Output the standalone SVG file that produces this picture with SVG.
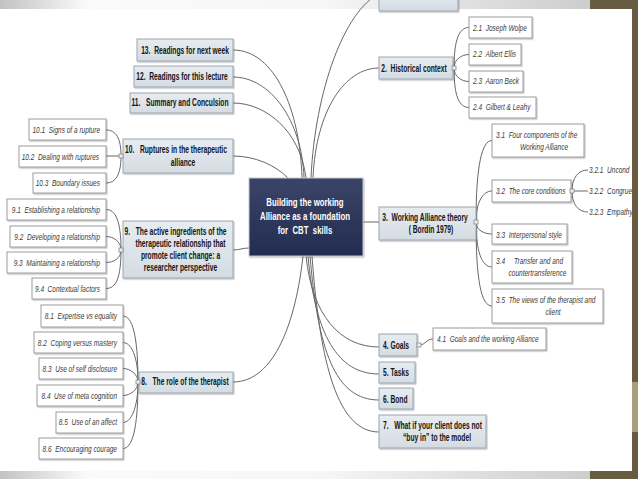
<svg xmlns="http://www.w3.org/2000/svg" width="638" height="479" viewBox="0 0 638 479">
<defs>
<linearGradient id="mg" x1="0" y1="0" x2="0" y2="1"><stop offset="0" stop-color="#e7ecf0"/><stop offset="1" stop-color="#d4dce3"/></linearGradient>
<linearGradient id="cg" x1="0" y1="0" x2="0" y2="1"><stop offset="0" stop-color="#3b4467"/><stop offset="1" stop-color="#232c50"/></linearGradient>
<linearGradient id="band" x1="0" y1="0" x2="1" y2="0"><stop offset="0" stop-color="#c2c2c2"/><stop offset="0.15" stop-color="#fbfbfb"/><stop offset="0.55" stop-color="#f6f6f6"/><stop offset="1" stop-color="#cdcdcd"/></linearGradient>
<filter id="sh" x="-10%" y="-10%" width="130%" height="140%"><feDropShadow dx="1" dy="1.2" stdDeviation="0.6" flood-color="#000" flood-opacity="0.25"/></filter>
<style>
.main rect{fill:url(#mg);stroke:#9aa6b1;stroke-width:1;filter:url(#sh)}
.sub rect{fill:#fff;stroke:#9c9c9c;stroke-width:1;filter:url(#sh)}
.mt{font-family:"Liberation Sans",Arial,sans-serif;font-weight:bold;font-size:10px;fill:#141414;white-space:pre}
.st{font-family:"Liberation Sans",Arial,sans-serif;font-style:italic;font-size:9.3px;fill:#3a3a3a;white-space:pre}
.ct{font-family:"Liberation Sans",Arial,sans-serif;font-weight:bold;font-size:11.5px;fill:#ffffff;white-space:pre}
#connectors path{fill:none;stroke:#686868;stroke-width:1}
.jn{fill:#eeeeee;stroke:#8a8a8a;stroke-width:0.8}
</style>
</defs>
<rect x="0" y="0" width="638" height="479" fill="#ffffff"/>
<rect x="0" y="0" width="590" height="9" fill="url(#band)"/>
<rect x="0" y="471" width="590" height="8" fill="url(#band)"/>

<g id="connectors">
<path d="M233,50 C275,50 300,110 302,178"/>
<path d="M233,77 C270,77 302,120 304,178"/>
<path d="M233,103 C265,103 300,130 306,178"/>
<path d="M233,156 C255,156 275,165 288,178"/>
<path d="M379,-6 C345,10 315,90 311,178"/>
<path d="M379,68 C345,68 316,110 313,178"/>
<path d="M233,250 C240,250 242,248 249,248"/>
<path d="M363,222 L379,222"/>
<path d="M233,382 C275,382 296,320 303,256"/>
<path d="M306,256 C312,315 340,347 379,347"/>
<path d="M308,256 C315,335 338,374 379,374"/>
<path d="M310,256 C318,350 335,400 379,400"/>
<path d="M312,256 C320,365 338,432 379,432"/>
<path d="M121,156 C121,138 116,130 106,130"/>
<path d="M121,156 L106,156"/>
<path d="M121,156 C121,174 116,183 106,183"/>
<path d="M121,250 C121,222 116,209.5 106,209.5"/>
<path d="M121,250 C121,242 114,236.5 106,236.5"/>
<path d="M121,250 C121,258 114,262.5 106,262.5"/>
<path d="M121,250 C121,278 116,288.5 106,288.5"/>
<path d="M138,382 C138,334 132,316 123,316"/>
<path d="M138,382 C138,356 131,342.5 123,342.5"/>
<path d="M138,382 C138,374 130,368.5 123,368.5"/>
<path d="M138,382 C138,390 130,395.5 123,395.5"/>
<path d="M138,382 C138,408 131,422.5 123,422.5"/>
<path d="M138,382 C138,430 132,448.5 123,448.5"/>
<path d="M454,68 C454,40 459,27.5 469,27.5"/>
<path d="M454,68 C454,60 461,54.5 469,54.5"/>
<path d="M454,68 C454,76 461,81.5 469,81.5"/>
<path d="M454,68 C454,96 459,107.5 469,107.5"/>
<path d="M476,222 C476,165 482,140.5 492,140.5"/>
<path d="M476,222 C476,202 483,191 492,191"/>
<path d="M476,222 C476,230 484,234 492,234"/>
<path d="M476,222 C476,252 482,267 492,267"/>
<path d="M476,222 C476,280 481,306 492,306"/>
<path d="M572,191 C572,178 578,170 588,170"/>
<path d="M572,191 L588,191"/>
<path d="M572,191 C572,204 578,212 588,212"/>
<path d="M419,345 C426,345 426,339 433,339"/>
</g>

<g id="center">
<rect x="249" y="178" width="114" height="78" fill="url(#cg)" stroke="#c3c7cf" stroke-width="1" filter="url(#sh)"/>
<text class="ct" text-anchor="middle" transform="translate(305,206) scale(0.68,1)">Building the working</text>
<text class="ct" text-anchor="middle" transform="translate(305,220) scale(0.68,1)">Alliance as a foundation</text>
<text class="ct" text-anchor="middle" transform="translate(305,234) scale(0.68,1)">for  CBT  skills</text>
</g>

<g id="n1" class="main"><rect x="379" y="-10" width="79" height="21"/></g>
<g id="n2" class="main"><rect x="379" y="57" width="74" height="22"/>
<text class="mt" text-anchor="middle" transform="translate(414,71.6) scale(0.67,1)">2.  Historical context</text></g>
<g id="n3" class="main"><rect x="379" y="207" width="97" height="33"/>
<text class="mt" text-anchor="middle" transform="translate(425,220.6) scale(0.67,1)">3.  Working Alliance theory</text>
<text class="mt" text-anchor="middle" transform="translate(431,233.3) scale(0.67,1)">( Bordin 1979)</text></g>
<g id="n4" class="main"><rect x="379" y="334" width="38" height="22"/>
<text class="mt" transform="translate(383,349) scale(0.67,1)">4. Goals</text></g>
<g id="n5" class="main"><rect x="379" y="362" width="36" height="21"/>
<text class="mt" transform="translate(383,376) scale(0.67,1)">5. Tasks</text></g>
<g id="n6" class="main"><rect x="379" y="388" width="34" height="21"/>
<text class="mt" transform="translate(383,402.6) scale(0.67,1)">6. Bond</text></g>
<g id="n7" class="main"><rect x="379" y="415" width="107" height="33"/>
<text class="mt" transform="translate(383,429.3) scale(0.67,1)">7.   What if your client does not</text>
<text class="mt" text-anchor="middle" transform="translate(437,440.6) scale(0.67,1)">“buy in” to the model</text></g>
<g id="n8" class="main"><rect x="139" y="372" width="94" height="21"/>
<text class="mt" text-anchor="middle" transform="translate(185,385) scale(0.67,1)">8.   The role of the therapist</text></g>
<g id="n9" class="main"><rect x="123" y="221" width="110" height="57"/>
<text class="mt" text-anchor="middle" transform="translate(175.5,235) scale(0.67,1)">9.   The active ingredients of the</text>
<text class="mt" text-anchor="middle" transform="translate(180.5,246.6) scale(0.67,1)">therapeutic relationship that</text>
<text class="mt" text-anchor="middle" transform="translate(180.5,259) scale(0.67,1)">promote client change: a</text>
<text class="mt" text-anchor="middle" transform="translate(180.5,271) scale(0.67,1)">researcher perspective</text></g>
<g id="n10" class="main"><rect x="123" y="139" width="110" height="34"/>
<text class="mt" text-anchor="middle" transform="translate(176,153.3) scale(0.67,1)">10.   Ruptures in the therapeutic</text>
<text class="mt" text-anchor="middle" transform="translate(183,165.5) scale(0.67,1)">alliance</text></g>
<g id="n11" class="main"><rect x="130" y="93" width="103" height="20"/>
<text class="mt" text-anchor="middle" transform="translate(180,106.3) scale(0.67,1)">11.   Summary and Conculsion</text></g>
<g id="n12" class="main"><rect x="134" y="66" width="99" height="21"/>
<text class="mt" text-anchor="middle" transform="translate(182,79.8) scale(0.67,1)">12.  Readings for this lecture</text></g>
<g id="n13" class="main"><rect x="137" y="39" width="96" height="22"/>
<text class="mt" text-anchor="middle" transform="translate(185,53.5) scale(0.67,1)">13.  Readings for next week</text></g>

<g id="n10-1" class="sub"><rect x="29" y="119" width="77" height="21"/>
<text class="st" text-anchor="end" transform="translate(100,133) scale(0.7,1)">10.1  Signs of a rupture</text></g>
<g id="n10-2" class="sub"><rect x="19" y="146" width="87" height="21"/>
<text class="st" text-anchor="end" transform="translate(99,159.5) scale(0.7,1)">10.2  Dealing with ruptures</text></g>
<g id="n10-3" class="sub"><rect x="33" y="173" width="73" height="20"/>
<text class="st" text-anchor="end" transform="translate(100,186) scale(0.7,1)">10.3  Boundary issues</text></g>
<g id="n9-1" class="sub"><rect x="7" y="199" width="99" height="21"/>
<text class="st" text-anchor="end" transform="translate(100,212.5) scale(0.7,1)">9.1  Establishing a relationship</text></g>
<g id="n9-2" class="sub"><rect x="10" y="226" width="96" height="21"/>
<text class="st" text-anchor="end" transform="translate(100,239.5) scale(0.7,1)">9.2  Developing a relationship</text></g>
<g id="n9-3" class="sub"><rect x="7" y="252" width="99" height="21"/>
<text class="st" text-anchor="end" transform="translate(100,265.5) scale(0.7,1)">9.3  Maintaining a relationship</text></g>
<g id="n9-4" class="sub"><rect x="32" y="278" width="74" height="21"/>
<text class="st" text-anchor="end" transform="translate(100,291.5) scale(0.7,1)">9.4  Contextual factors</text></g>
<g id="n8-1" class="sub"><rect x="41" y="305" width="82" height="22"/>
<text class="st" text-anchor="end" transform="translate(117,319) scale(0.7,1)">8.1  Expertise vs equality</text></g>
<g id="n8-2" class="sub"><rect x="34" y="332" width="89" height="21"/>
<text class="st" text-anchor="end" transform="translate(117,346.3) scale(0.7,1)">8.2  Coping versus mastery</text></g>
<g id="n8-3" class="sub"><rect x="39" y="358" width="84" height="21"/>
<text class="st" text-anchor="end" transform="translate(117,372.3) scale(0.7,1)">8.3  Use of self disclosure</text></g>
<g id="n8-4" class="sub"><rect x="37" y="385" width="86" height="21"/>
<text class="st" text-anchor="end" transform="translate(117,399) scale(0.7,1)">8.4  Use of meta cognition</text></g>
<g id="n8-5" class="sub"><rect x="56" y="412" width="67" height="21"/>
<text class="st" text-anchor="end" transform="translate(117,424.7) scale(0.7,1)">8.5  Use of an affect</text></g>
<g id="n8-6" class="sub"><rect x="39" y="438" width="84" height="21"/>
<text class="st" text-anchor="end" transform="translate(117,452.3) scale(0.7,1)">8.6  Encouraging courage</text></g>

<g id="n2-1" class="sub"><rect x="469" y="17" width="63" height="21"/>
<text class="st" transform="translate(473,30.7) scale(0.7,1)">2.1  Joseph Wolpe</text></g>
<g id="n2-2" class="sub"><rect x="469" y="44" width="52" height="21"/>
<text class="st" transform="translate(473,57.3) scale(0.7,1)">2.2  Albert Ellis</text></g>
<g id="n2-3" class="sub"><rect x="469" y="71" width="54" height="21"/>
<text class="st" transform="translate(473,84) scale(0.7,1)">2.3  Aaron Beck</text></g>
<g id="n2-4" class="sub"><rect x="469" y="97" width="67" height="21"/>
<text class="st" transform="translate(473,110.3) scale(0.7,1)">2.4  Gilbert &amp; Leahy</text></g>
<g id="n3-1" class="sub"><rect x="492" y="124" width="92" height="33"/>
<text class="st" transform="translate(496,138) scale(0.7,1)">3.1  Four components of the</text>
<text class="st" text-anchor="middle" transform="translate(544,149.7) scale(0.7,1)">Working Alliance</text></g>
<g id="n3-2" class="sub"><rect x="492" y="180" width="79" height="22"/>
<text class="st" transform="translate(496,193.7) scale(0.7,1)">3.2  The core conditions</text></g>
<g id="n3-2-1"><text class="st" transform="translate(589,173.3) scale(0.7,1)">3.2.1  Uncond</text></g>
<g id="n3-2-2"><text class="st" transform="translate(589,194) scale(0.7,1)">3.2.2  Congrue</text></g>
<g id="n3-2-3"><text class="st" transform="translate(589,215) scale(0.7,1)">3.2.3  Empathy</text></g>
<g id="n3-3" class="sub"><rect x="492" y="224" width="75" height="20"/>
<text class="st" transform="translate(496,238) scale(0.7,1)">3.3  Interpersonal style</text></g>
<g id="n3-4" class="sub"><rect x="492" y="251" width="80" height="32"/>
<text class="st" transform="translate(496,264) scale(0.7,1)">3.4     Transfer and and</text>
<text class="st" text-anchor="middle" transform="translate(537.5,275.7) scale(0.7,1)">countertransference</text></g>
<g id="n3-5" class="sub"><rect x="492" y="289" width="111" height="34"/>
<text class="st" transform="translate(496,303) scale(0.7,1)">3.5  The views of the therapist and</text>
<text class="st" text-anchor="middle" transform="translate(553,315.3) scale(0.7,1)">client</text></g>
<g id="n4-1" class="sub"><rect x="433" y="328" width="113" height="22"/>
<text class="st" transform="translate(437,342.3) scale(0.7,1)">4.1  Goals and the working Alliance</text></g>

<g id="junctions">
<rect class="jn" x="119" y="154" width="4" height="4"/>
<rect class="jn" x="119" y="248" width="4" height="4"/>
<rect class="jn" x="136" y="380" width="4" height="4"/>
<rect class="jn" x="452" y="66" width="4" height="4"/>
<rect class="jn" x="474" y="220" width="4" height="4"/>
<rect class="jn" x="570" y="189" width="4" height="4"/>
<rect class="jn" x="417" y="343" width="4" height="4"/>
</g>

<rect x="590" y="0" width="48" height="9" fill="#675c42"/>
<rect x="632" y="0" width="6" height="479" fill="#675c42"/>
<rect x="632" y="382" width="6" height="50" fill="#a79f79"/>
<rect x="590" y="471" width="48" height="8" fill="#675c42"/>
</svg>
